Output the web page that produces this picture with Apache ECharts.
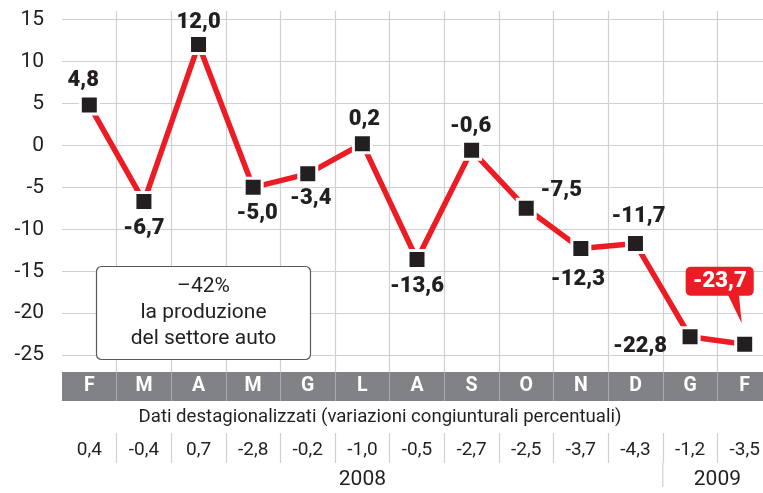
<!DOCTYPE html>
<html>
<head>
<meta charset="utf-8">
<script src="https://cdn.jsdelivr.net/npm/echarts@6/dist/echarts.min.js"></script>
<style>
  html, body { margin: 0; padding: 0; background: #ffffff; }
  #chart { width: 763px; height: 493px; }
</style>
</head>
<body>
<div id="chart"></div>
<script>
// ---- Data ----
const months = ['F', 'M', 'A', 'M', 'G', 'L', 'A', 'S', 'O', 'N', 'D', 'G', 'F'];
const production = [4.8, -6.7, 12.0, -5.0, -3.4, 0.2, -13.6, -0.6, -7.5, -12.3, -11.7, -22.8, -23.7];
const seasonallyAdjusted = ['0,4', '-0,4', '0,7', '-2,8', '-0,2', '-1,0', '-0,5', '-2,7', '-2,5', '-3,7', '-4,3', '-1,2', '-3,5'];
const yTicks = [15, 10, 5, 0, -5, -10, -15, -20, -25];
const yearLabels = ['2008', '2009'];
const subtitle = 'Dati destagionalizzati (variazioni congiunturali percentuali)';
const boxLines = ['\u201342%', 'la produzione', 'del settore auto'];

// ---- Styling (not data) ----
const FONT = 'Roboto, "Open Sans", sans-serif';
const INK = '#231f20';
const RED = '#ed1c24';
const GRID_GRAY = '#cfd0d2';
const labelOffsets = [[-6, -25], [0, 27], [0, -22], [4, 26], [3, 25], [2, -24], [0, 27], [-1, -24],
                      [35, -18], [-3, 31], [3, -27], [-50, 10], [-25, -63]];

const L = 62, W = 710;
const n = months.length;

function fmt(v) { return v.toFixed(1).replace('.', ','); }

function splitColors(c) {
  const arr = [];
  for (let i = 0; i <= n; i++) arr.push(i === 0 ? 'rgba(0,0,0,0)' : c);
  return arr;
}

const seriesData = production.map((v, i) => {
  const item = { value: v, label: { offset: labelOffsets[i] } };
  if (i === production.length - 1) {
    item.label = {
      offset: labelOffsets[i],
      color: '#ffffff',
      backgroundColor: RED,
      borderRadius: 5,
      padding: [4, 7, 3, 7]
    };
  }
  return item;
});

const chart = echarts.init(document.getElementById('chart'), null, { renderer: 'canvas' });

const option = {
  animation: false,
  backgroundColor: '#ffffff',
  grid: [
    { left: L, width: W, top: 11, height: 361, outerBoundsMode: 'none', containLabel: false },
    { left: L, width: W, top: 372, height: 29, outerBoundsMode: 'none', show: true, backgroundColor: '#808285', borderWidth: 0 },
    { left: L, width: W, top: 433, height: 30, outerBoundsMode: 'none' }
  ],
  xAxis: [
    {
      gridIndex: 0, type: 'category', data: months, boundaryGap: true,
      axisLine: { show: false }, axisTick: { show: false }, axisLabel: { show: false },
      splitLine: { show: true, lineStyle: { color: splitColors(GRID_GRAY), width: 1.2 } }
    },
    {
      gridIndex: 1, type: 'category', data: months, boundaryGap: true, position: 'bottom',
      axisLine: { show: false }, axisTick: { show: false },
      axisLabel: {
        interval: 0, color: '#ffffff', fontFamily: FONT, fontWeight: 'bold', fontSize: 19.5,
        verticalAlign: 'middle', margin: -14.5
      },
      splitLine: { show: true, lineStyle: { color: splitColors('#a7a9ac'), width: 1 } }
    },
    {
      gridIndex: 2, type: 'category', data: seasonallyAdjusted, boundaryGap: true, position: 'bottom',
      axisLine: { show: false }, axisTick: { show: false },
      axisLabel: {
        interval: 0, color: INK, fontFamily: FONT, fontSize: 19,
        verticalAlign: 'middle', margin: -13
      },
      splitLine: { show: true, lineStyle: { color: splitColors(GRID_GRAY), width: 1.2 } }
    }
  ],
  yAxis: [
    {
      gridIndex: 0, type: 'value', min: -27, max: 16,
      axisLine: { show: false },
      axisTick: { show: false, customValues: yTicks },
      axisLabel: { customValues: yTicks, color: INK, fontFamily: FONT, fontSize: 21, margin: 18 },
      splitLine: { show: true, lineStyle: { color: GRID_GRAY, width: 1.2 } }
    },
    { gridIndex: 1, type: 'value', show: false },
    { gridIndex: 2, type: 'value', show: false }
  ],
  series: [
    {
      type: 'line',
      xAxisIndex: 0, yAxisIndex: 0,
      data: seriesData,
      symbol: 'rect',
      symbolSize: 18,
      lineStyle: { color: RED, width: 5.5 },
      itemStyle: { color: INK, borderColor: '#ffffff', borderWidth: 3 },
      label: {
        show: true, position: 'inside',
        fontFamily: FONT, fontWeight: 900, fontSize: 22, color: INK,
        formatter: p => fmt(p.value)
      },
      z: 3
    }
  ]
};

chart.setOption(option);

// Decorations positioned from the chart's own coordinate system
const lastIdx = production.length - 1;
const lastPt = chart.convertToPixel({ xAxisIndex: 0, yAxisIndex: 0 }, [lastIdx, production[lastIdx]]);
const p0 = chart.convertToPixel({ xAxisIndex: 0, yAxisIndex: 0 }, [0, 0]);
const p1 = chart.convertToPixel({ xAxisIndex: 0, yAxisIndex: 0 }, [1, 0]);
const colW = p1[0] - p0[0];
const col = i => p0[0] + colW * i;
const boundary = i => p0[0] + colW * (i - 0.5);

chart.setOption({
  graphic: [
    {
      type: 'polygon', z: 2,
      shape: { points: [[lastPt[0] - 18, lastPt[1] - 52], [lastPt[0] - 6, lastPt[1] - 52], [lastPt[0] - 3, lastPt[1] - 21]] },
      style: { fill: RED }
    },
    {
      type: 'rect', z: 10,
      shape: { x: 96.5, y: 266.5, width: 214, height: 93, r: 5 },
      style: { fill: '#ffffff', stroke: '#58595b', lineWidth: 1.2 }
    },
    {
      type: 'text', z: 11, x: 203.5, y: 287,
      style: { text: boxLines[0], fill: INK, font: '21px ' + FONT, align: 'center', verticalAlign: 'middle' }
    },
    {
      type: 'text', z: 11, x: 203.5, y: 313,
      style: { text: boxLines[1], fill: INK, font: '21px ' + FONT, align: 'center', verticalAlign: 'middle' }
    },
    {
      type: 'text', z: 11, x: 203.5, y: 339,
      style: { text: boxLines[2], fill: INK, font: '21px ' + FONT, align: 'center', verticalAlign: 'middle' }
    },
    {
      type: 'text', z: 11, x: 380, y: 417,
      style: { text: subtitle, fill: INK, font: '18.6px ' + FONT, align: 'center', verticalAlign: 'middle' }
    },
    {
      type: 'line', z: 5,
      shape: { x1: boundary(11), y1: 463, x2: boundary(11), y2: 487 },
      style: { stroke: GRID_GRAY, lineWidth: 1.2 }
    },
    {
      type: 'text', z: 11, x: col(5), y: 480,
      style: { text: yearLabels[0], fill: INK, font: '21px ' + FONT, align: 'center', verticalAlign: 'middle' }
    },
    {
      type: 'text', z: 11, x: boundary(12), y: 480,
      style: { text: yearLabels[1], fill: INK, font: '21px ' + FONT, align: 'center', verticalAlign: 'middle' }
    }
  ]
});
</script>
</body>
</html>
